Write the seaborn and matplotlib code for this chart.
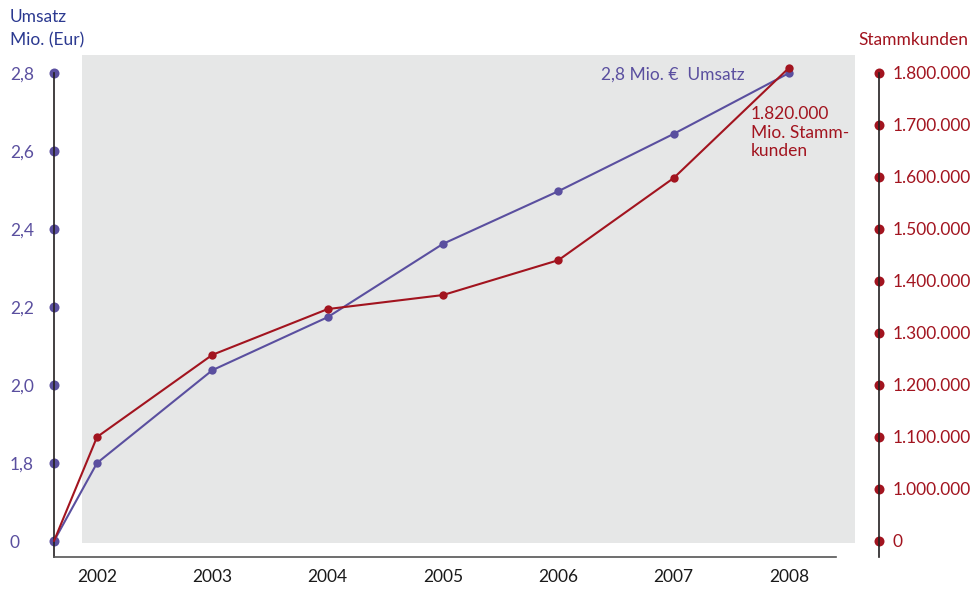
import numpy as np
import pandas as pd
import matplotlib
matplotlib.use("Agg")
import matplotlib.pyplot as plt
from matplotlib.patches import Rectangle
import seaborn as sns

# ---------------- data ----------------
years = [2002, 2003, 2004, 2005, 2006, 2007, 2008]
origin_x = 2001.627
umsatz = [1.8, 2.038, 2.174, 2.362, 2.497, 2.644, 2.8]            # Mio. Eur
stammkunden = [1100000, 1258000, 1346000, 1373000, 1440000, 1598000, 1810000]
left_ticks = [0, 1.8, 2.0, 2.2, 2.4, 2.6, 2.8]
left_labels = ["0", "1,8", "2,0", "2,2", "2,4", "2,6", "2,8"]
right_ticks = [0, 1000000, 1100000, 1200000, 1300000, 1400000, 1500000, 1600000, 1700000, 1800000]
right_labels = ["0", "1.000.000", "1.100.000", "1.200.000", "1.300.000", "1.400.000",
                "1.500.000", "1.600.000", "1.700.000", "1.800.000"]

BLUE = "#5a4f9f"
RED = "#a2141f"
NAVY = "#2b3990"
GRAY = "#e6e7e7"

sns.set_style("white")
plt.rcParams["font.family"] = ["Lato", "DejaVu Sans"]

W, H = 971, 589
fig = plt.figure(figsize=(W / 100, H / 100), dpi=100)
ax = fig.add_axes([54 / W, 1 - 557 / H, (879 - 54) / W, (557 - 55) / H])
ax.patch.set_visible(False)
ax2 = ax.twinx()

# broken scales
def lf(v):
    v = np.asarray(v, dtype=float)
    return np.where(v < 1.8, v / 1.8, 1 + (v - 1.8) / 0.2)

def li(p):
    p = np.asarray(p, dtype=float)
    return np.where(p < 1, p * 1.8, 1.8 + (p - 1) * 0.2)

def rf(v):
    v = np.asarray(v, dtype=float)
    return np.where(v < 1e6, v / 1e6, 1 + (v - 1e6) / 1e5)

def ri(q):
    q = np.asarray(q, dtype=float)
    return np.where(q < 1, q * 1e6, 1e6 + (q - 1) * 1e5)

ax.set_yscale("function", functions=(lf, li))
ax2.set_yscale("function", functions=(rf, ri))

df_u = pd.DataFrame({"x": [origin_x] + years, "y": [0] + umsatz})
df_s = pd.DataFrame({"x": [origin_x] + years, "y": [0] + stammkunden})

mk = list(range(1, len(years) + 1))
sns.lineplot(data=df_u, x="x", y="y", ax=ax, color=BLUE, marker="o", markersize=6,
             markeredgewidth=0, linewidth=1.5, clip_on=False, markevery=mk)
sns.lineplot(data=df_s, x="x", y="y", ax=ax2, color=RED, marker="o", markersize=6,
             markeredgewidth=0, linewidth=1.5, clip_on=False, markevery=mk)

ax.set_xlim(2001.627, 2008.780)
ax.set_ylim(li(-0.205), li(6.231))
ax2.set_ylim(ri(-0.308), ri(9.346))

# gray background panel
ax.add_patch(Rectangle((2001.870, 0.0279), 2008.572 - 2001.870, 1 - 0.0279,
                       transform=ax.get_xaxis_transform(), facecolor=GRAY,
                       edgecolor="none", zorder=0))

# spines
for s in ["top", "right"]:
    ax.spines[s].set_visible(False)
for s in ["top", "left", "bottom"]:
    ax2.spines[s].set_visible(False)
ax.spines["left"].set_bounds(li(-0.205), 2.8)
ax.spines["bottom"].set_bounds(2001.627, 2008.41)
ax2.spines["right"].set_bounds(ri(-0.308), 1800000)
for sp in [ax.spines["left"], ax.spines["bottom"], ax2.spines["right"]]:
    sp.set_color("#231f20")
    sp.set_linewidth(1.2)
ax.spines["bottom"].set_color("#555555")

# x ticks
ax.set_xticks(years)
ax.set_xticklabels([str(y) for y in years])
ax.tick_params(axis="x", length=0, pad=9, labelsize=12.5, labelcolor="#1a1a1a")
ax.set_xlabel("")
ax.set_ylabel("")
ax2.set_ylabel("")

# left ticks with dots
ax.set_yticks(left_ticks)
ax.set_yticklabels(left_labels)
ax.tick_params(axis="y", left=True, length=7.2, width=0, pad=24.5, labelsize=12.5,
               labelcolor=BLUE)
for t in ax.yaxis.get_major_ticks():
    t.tick1line.set_marker("o")
    t.tick1line.set_markersize(7.2)
    t.tick1line.set_color(BLUE)
    t.tick1line.set_markerfacecolor(BLUE)
    t.tick1line.set_markeredgewidth(0)
    t.tick1line.set_zorder(5)
    t.label1.set_horizontalalignment("left")

# right ticks with dots
ax2.set_yticks(right_ticks)
ax2.set_yticklabels(right_labels)
ax2.tick_params(axis="y", right=True, length=7.2, width=0, pad=2.5, labelsize=12.5,
                labelcolor=RED)
for t in ax2.yaxis.get_major_ticks():
    t.tick2line.set_marker("o")
    t.tick2line.set_markersize(7.2)
    t.tick2line.set_color(RED)
    t.tick2line.set_markerfacecolor(RED)
    t.tick2line.set_markeredgewidth(0)

# titles
fig.text(10 / W, 1 - 17 / H, "Umsatz", color=NAVY, fontsize=12.5, va="center", ha="left")
fig.text(10 / W, 1 - 40 / H, "Mio. (Eur)", color=NAVY, fontsize=12.5, va="center", ha="left")
fig.text(968 / W, 1 - 40 / H, "Stammkunden", color=RED, fontsize=12.5, va="center", ha="right")

# annotations
fig.text(601 / W, 1 - 75 / H, "2,8 Mio. \u20ac  Umsatz", color=BLUE, fontsize=12.5,
         va="center", ha="left")
fig.text(751 / W, 1 - 106 / H, "1.820.000\nMio. Stamm-\nkunden", color=RED, fontsize=12.5,
         va="top", ha="left", linespacing=1.2)

fig.savefig("out.png", dpi=100)
